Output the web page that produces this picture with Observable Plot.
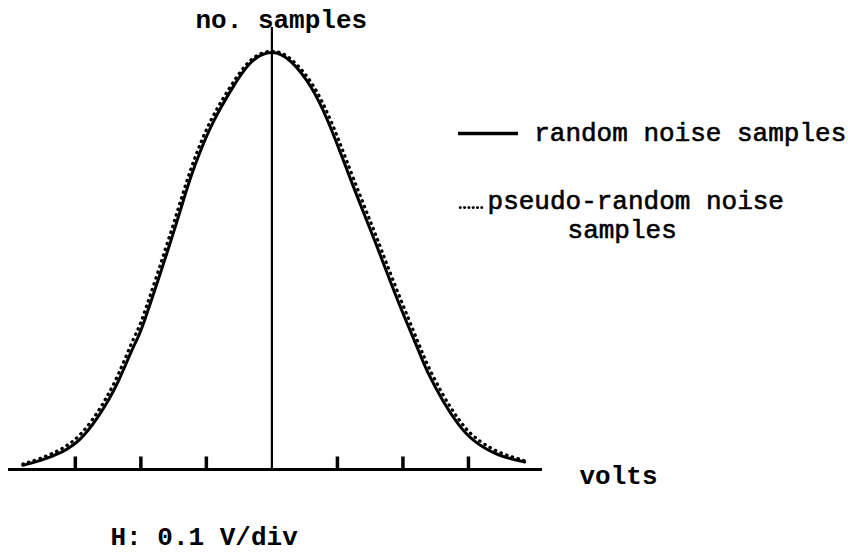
<!DOCTYPE html>
<html>
<head>
<meta charset="utf-8">
<script src="https://cdn.jsdelivr.net/npm/d3@7"></script>
<script src="https://cdn.jsdelivr.net/npm/@observablehq/plot@0.6"></script>
<style>
  html, body { margin: 0; padding: 0; background: #fff; }
  #chart svg { display: block; }
</style>
</head>
<body>
<div id="chart"></div>
<script>
// Horizontal position in volts (H: 0.1 V/div), centre = 0
const volts = [-0.380,-0.353,-0.322,-0.292,-0.266,-0.250,-0.234,-0.211,-0.195,-0.159,-0.139,-0.124,-0.108,-0.089,-0.063,-0.032,0,0.029,0.060,0.085,0.105,0.125,0.147,0.162,0.192,0.223,0.238,0.261,0.284,0.308,0.345,0.380,0.385];
// Relative number of samples (peak = 100)
const randomNoise = [1.0,2.2,4.1,7.4,12.5,16.5,21.3,29.5,35.5,52.5,62.5,70.0,76.8,83.5,90.8,97.6,100,97.8,91.6,83.7,75.8,67.6,58.8,52.8,40.6,28.8,23.3,16.5,11.0,7.0,3.6,2.0,1.8];
const pseudoRandomNoise = [1.3,2.7,4.9,8.5,13.8,18.0,23.0,31.4,37.5,54.6,64.6,71.9,78.6,85.0,91.9,98.2,100.3,98.4,92.8,85.4,77.8,69.6,60.8,54.8,42.6,30.6,25.0,18.0,12.3,8.0,4.3,2.4,2.0];
// Division tick marks on the voltage axis
const tickVolts = [-0.3,-0.2,-0.1,0.1,0.2,0.3];
// Texts
const yLabel = "no. samples";
const xLabel = "volts";
const scaleNote = "H: 0.1 V/div";
const legendSolid = "random noise samples";
const legendDotted1 = "pseudo-random noise";
const legendDotted2 = "samples";

const solid = volts.map((v, i) => ({v, n: randomNoise[i]}));
const dotted = volts.map((v, i) => ({v, n: pseudoRandomNoise[i]}));

const font = {fontFamily: "'Liberation Mono', 'DejaVu Sans Mono', monospace", fontSize: 26, fill: "#000"};
const thick = {stroke: "#000", strokeWidth: 0.6};

const chart = Plot.plot({
  width: 848,
  height: 554,
  marginLeft: 8,
  marginRight: 306,
  marginTop: 52,
  marginBottom: 85,
  x: {domain: [-0.402, 0.413], axis: null},
  y: {domain: [0, 100], axis: null},
  style: {background: "#fff", overflow: "visible"},
  marks: [
    // baseline axis
    Plot.ruleY([0], {stroke: "#000", strokeWidth: 3}),
    // division ticks
    Plot.ruleX(tickVolts, {y1: 0, y2: 3, stroke: "#000", strokeWidth: 3.5}),
    // centre line
    Plot.ruleX([0], {y1: 0, y2: 106, stroke: "#000", strokeWidth: 2.2}),
    // pseudo-random (dotted)
    Plot.line(dotted, {x: "v", y: "n", curve: "natural", stroke: "#000", strokeWidth: 3.2,
      strokeDasharray: "0.5,5.5", strokeLinecap: "round"}),
    // random (solid)
    Plot.line(solid, {x: "v", y: "n", curve: "natural", stroke: "#000", strokeWidth: 3}),
    // legend keys
    Plot.ruleY([80.6], {x1: 0.2848, x2: 0.3764, stroke: "#000", strokeWidth: 3.5}),
    Plot.ruleY([62.8], {x1: 0.2879, x2: 0.3214, stroke: "#000", strokeWidth: 2.6,
      strokeDasharray: "0.5,3.8", strokeLinecap: "round"}),
    // texts
    Plot.text([yLabel], {x: -0.1166, y: 105.8, text: d => d, textAnchor: "start", lineAnchor: "bottom", ...font, fontWeight: "bold"}),
    Plot.text([legendSolid], {x: 0.4003, y: 78.7, text: d => d, textAnchor: "start", lineAnchor: "bottom", ...font, ...thick}),
    Plot.text([legendDotted1], {x: 0.3291, y: 62.4, text: d => d, textAnchor: "start", lineAnchor: "bottom", ...font, ...thick}),
    Plot.text([legendDotted2], {x: 0.4512, y: 55.6, text: d => d, textAnchor: "start", lineAnchor: "bottom", ...font, ...thick}),
    Plot.text([xLabel], {x: 0.4695, y: -3.4, text: d => d, textAnchor: "start", lineAnchor: "bottom", ...font, fontWeight: "bold"}),
    Plot.text([scaleNote], {x: -0.2463, y: -18.2, text: d => d, textAnchor: "start", lineAnchor: "bottom", ...font, fontWeight: "bold"})
  ]
});
document.getElementById("chart").appendChild(chart);
</script>
</body>
</html>
